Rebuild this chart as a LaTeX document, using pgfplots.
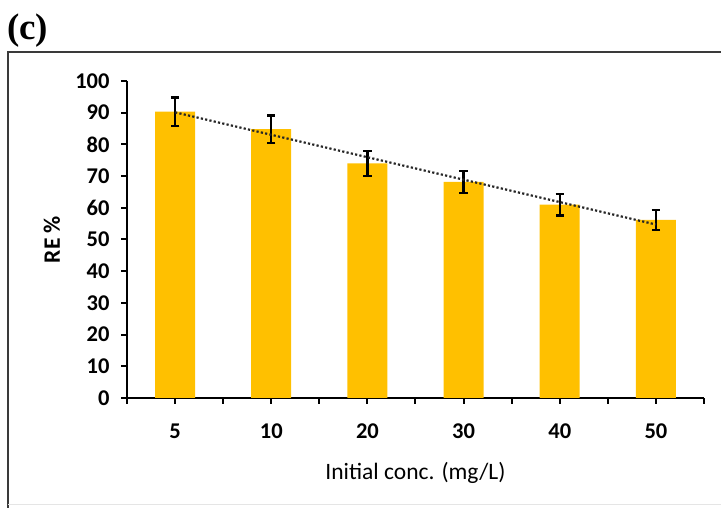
\documentclass[border=0pt]{standalone}
\usepackage{pgfplots}
\usepackage{pgfplotstable}
\pgfplotsset{compat=1.18}
\usepackage{fontspec}
\setmainfont{Carlito}
\newfontfamily\serifb{Liberation Serif}
\definecolor{barc}{HTML}{FFC000}
\definecolor{frame}{HTML}{3A3A3A}

\pgfplotstableread{
x y err
0 90.3 4.5
1 84.8 4.3
2 74.0 3.9
3 68.2 3.5
4 61.0 3.4
5 56.2 3.2
}\datatable

\begin{document}
\begin{tikzpicture}[x=1pt,y=1pt]
\path[use as bounding box] (0,0) rectangle (721,508);
\draw[line width=2.4pt, color=frame] (8,0) -- (8,456) -- (721,456);
\draw[gray!20, line width=1pt] (8,3) -- (721,3);
\node[anchor=west, inner sep=0pt, font=\fontsize{37}{40}\selectfont\serifb\bfseries] at (7,477) {(c)};
\begin{axis}[
  at={(127pt,110pt)}, anchor=south west,
  width=577pt, height=317pt, scale only axis,
  xmin=-0.5, xmax=5.5, ymin=0, ymax=100,
  axis x line=bottom, axis y line=left,
  axis line style={line width=2pt, -, black},
  xtick={0,...,5}, xticklabels={5,10,20,30,40,50},
  minor xtick={-0.5,0.5,...,5.5},
  ytick={0,10,...,100},
  tick align=outside, tick style={line width=2pt, black},
  major tick length=6pt, minor tick length=6pt,
  tick label style={font=\fontsize{22.5}{26}\selectfont\bfseries},
  xticklabel style={yshift=-16pt},
  yticklabel style={xshift=-8pt},
  /pgf/number format/assume math mode=true,
  xlabel={Initial conc. (mg/L)}, ylabel={\bfseries RE \%},
  label style={font=\fontsize{23.5}{27}\selectfont},
  xlabel style={at={(axis description cs:0.5,0)}, anchor=center, yshift=-75pt},
  ylabel style={at={(axis description cs:-0.13,0.5)}, anchor=center},
  clip=false,
]
\addplot[ybar, bar width=40pt, fill=barc, draw=none,
  error bars/.cd, y dir=both, y explicit,
  error bar style={line width=2.2pt, black},
  error mark options={rotate=90, line width=2.2pt, mark size=4.2pt, black}]
  table[x=x, y=y, y error=err] {\datatable};
\addplot[no marks, line width=2.2pt, color=black!85, dash pattern=on 2.2pt off 2.2pt]
  table[x=x, y={create col/linear regression={y=y}}] {\datatable};
\end{axis}
\end{tikzpicture}
\end{document}
